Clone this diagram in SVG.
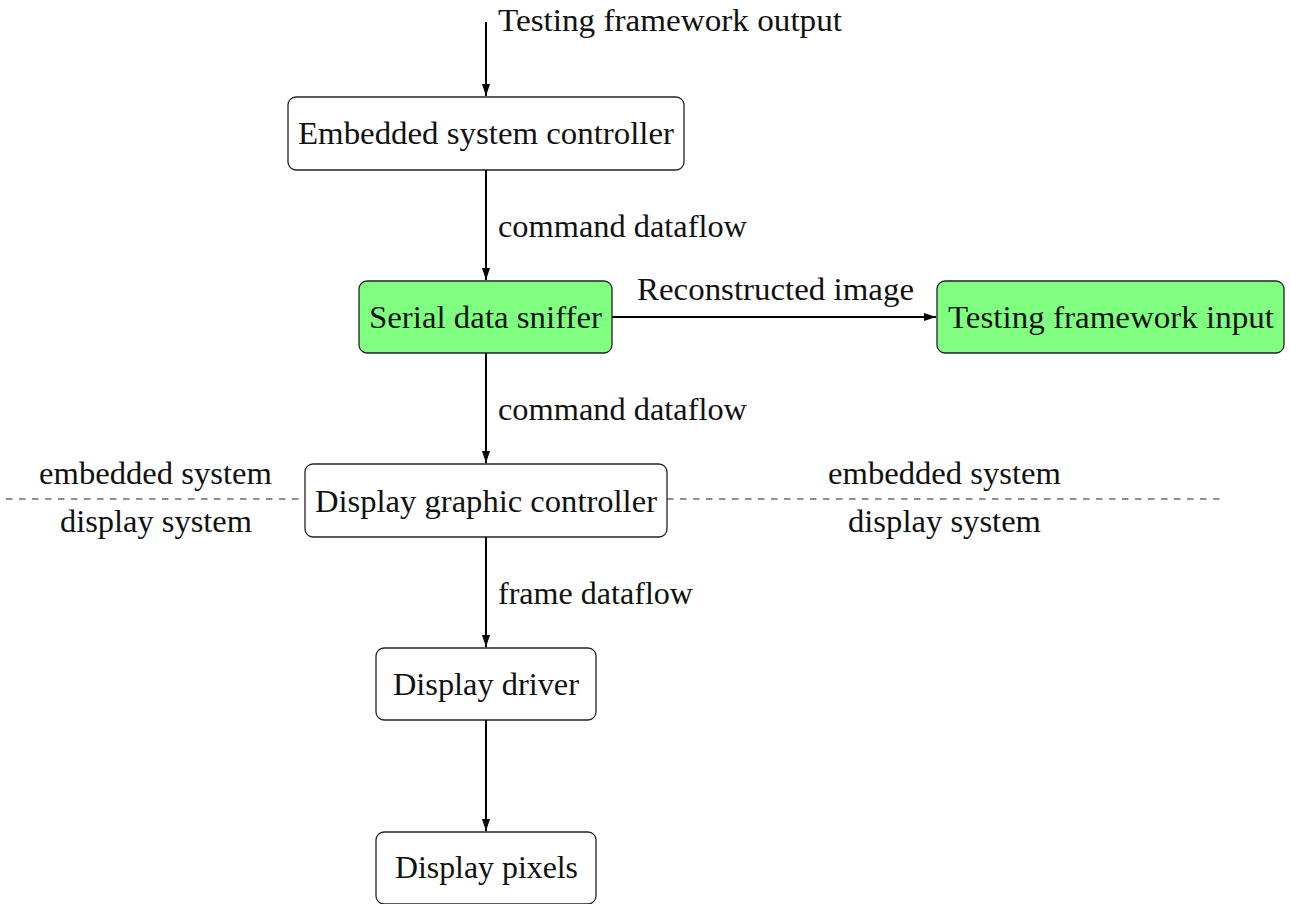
<svg xmlns="http://www.w3.org/2000/svg" width="1290" height="904" viewBox="0 0 1290 904">
  <style>
    text { font-family: "Liberation Serif", "DejaVu Serif", serif; font-size: 31px; fill: #111; }
    .box { fill: #ffffff; stroke: #222; stroke-width: 1.3; }
    .green { fill: #80ff80; }
    .edge { fill: none; stroke: #000; stroke-width: 2; }
    .sep { fill: none; stroke: #222; stroke-width: 1.2; stroke-dasharray: 6.5 6.5; }
  </style>
  <defs>
    <marker id="tip" viewBox="0 0 12 8" refX="12" refY="4" markerWidth="12" markerHeight="8" markerUnits="userSpaceOnUse" orient="auto">
      <path d="M0,0 L12,4 L0,8 Z" fill="#000"/>
    </marker>
  </defs>

  <!-- boundary between embedded side and display side -->
  <g id="separator">
    <line class="sep" x1="6" y1="499" x2="305" y2="499"/>
    <line class="sep" x1="667" y1="499" x2="1220" y2="499"/>
    <text x="39" y="484" textLength="233" lengthAdjust="spacingAndGlyphs">embedded system</text>
    <text x="60" y="532" textLength="192" lengthAdjust="spacingAndGlyphs">display system</text>
    <text x="828" y="484" textLength="233" lengthAdjust="spacingAndGlyphs">embedded system</text>
    <text x="848" y="532" textLength="193" lengthAdjust="spacingAndGlyphs">display system</text>
  </g>

  <g id="connectors">
    <line class="edge" x1="486" y1="22" x2="486" y2="96" marker-end="url(#tip)"/>
    <text x="498" y="31" textLength="344" lengthAdjust="spacingAndGlyphs">Testing framework output</text>

    <line class="edge" x1="486" y1="170" x2="486" y2="280" marker-end="url(#tip)"/>
    <text x="498" y="237" textLength="249" lengthAdjust="spacingAndGlyphs">command dataflow</text>

    <line class="edge" x1="612" y1="317" x2="936" y2="317" marker-end="url(#tip)"/>
    <text x="637" y="300" textLength="277" lengthAdjust="spacingAndGlyphs">Reconstructed image</text>

    <line class="edge" x1="486" y1="353" x2="486" y2="463" marker-end="url(#tip)"/>
    <text x="498" y="420" textLength="249" lengthAdjust="spacingAndGlyphs">command dataflow</text>

    <line class="edge" x1="486" y1="537" x2="486" y2="647" marker-end="url(#tip)"/>
    <text x="498" y="604" textLength="195" lengthAdjust="spacingAndGlyphs">frame dataflow</text>

    <line class="edge" x1="486" y1="720" x2="486" y2="831" marker-end="url(#tip)"/>
  </g>

  <g id="embedded-controller">
    <rect class="box" x="288" y="97" width="396" height="73" rx="8"/>
    <text x="298" y="144" textLength="376" lengthAdjust="spacingAndGlyphs">Embedded system controller</text>
  </g>

  <g id="serial-sniffer">
    <rect class="box green" x="359" y="281" width="253" height="72" rx="8"/>
    <text x="369" y="328" textLength="233" lengthAdjust="spacingAndGlyphs">Serial data sniffer</text>
  </g>

  <g id="framework-input">
    <rect class="box green" x="937" y="281" width="347" height="72" rx="8"/>
    <text x="948" y="328" textLength="326" lengthAdjust="spacingAndGlyphs">Testing framework input</text>
  </g>

  <g id="graphic-controller">
    <rect class="box" x="305" y="464" width="362" height="73" rx="8"/>
    <text x="315" y="512" textLength="342" lengthAdjust="spacingAndGlyphs">Display graphic controller</text>
  </g>

  <g id="display-driver">
    <rect class="box" x="376" y="648" width="220" height="72" rx="8"/>
    <text x="393" y="695" textLength="186" lengthAdjust="spacingAndGlyphs">Display driver</text>
  </g>

  <g id="display-pixels">
    <rect class="box" x="376" y="832" width="220" height="72" rx="8"/>
    <text x="395" y="878" textLength="183" lengthAdjust="spacingAndGlyphs">Display pixels</text>
  </g>
</svg>
